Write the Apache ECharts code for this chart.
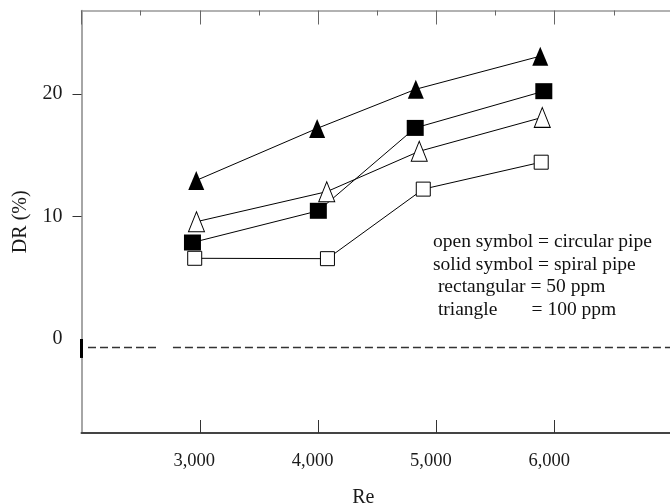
<!DOCTYPE html>
<html>
<head>
<meta charset="utf-8">
<script src="https://cdn.jsdelivr.net/npm/echarts@6/dist/echarts.min.js"></script>
<style>
  html, body { margin: 0; padding: 0; background: #fff; }
  #chart { width: 670px; height: 504px; }
</style>
</head>
<body>
<div id="chart"></div>
<script>
// Re / DR(%) pairs
const spiral100 = [[2970, 12.95], [3992, 17.2], [4826, 20.4], [5878, 23.1]];   // solid triangle
const spiral50 = [[2938, 7.88], [4002, 10.47], [4821, 17.24], [5908, 20.24]];  // solid square
const circular100 = [[2972, 9.58], [4073, 12.03], [4855, 15.33], [5895, 18.1]]; // open triangle
const circular50 = [[2957, 6.59], [4079, 6.56], [4889, 12.24], [5886, 14.44]];  // open square

// dashed zero line (drawn in two pieces like the original) and the mark on the axis
const zeroLeft = [[2055, -0.7], [2655, -0.7]];
const zeroRight = [[2773, -0.7], [7000, -0.7]];
const zeroMark = [[2000, 0], [2000, -1.55]];

const xTicks = [3000, 4000, 5000, 6000];
const yTicks = [10, 20];
const yLabels = [0, 10, 20];

const legendLines = [
    'open symbol = circular pipe',
    'solid symbol = spiral pipe',
    ' rectangular = 50 ppm',
    ' triangle       = 100 ppm'
];

const serif = '"Liberation Serif", "Times New Roman", serif';
const chart = echarts.init(document.getElementById('chart'));

function dataSeries(data, symbol, size, solid) {
    return {
        type: 'line',
        data: data,
        symbol: symbol,
        symbolSize: size,
        showAllSymbol: true,
        lineStyle: { color: '#000', width: 1 },
        itemStyle: {
            color: solid ? '#000' : '#fff',
            borderColor: '#000',
            borderWidth: solid ? 0 : 1
        },
        z: 3,
        silent: true
    };
}

function dashSeries(data) {
    return {
        type: 'line',
        data: data,
        symbol: 'none',
        lineStyle: { color: '#333', width: 1.5, type: [8, 4] },
        silent: true,
        z: 2
    };
}

const option = {
    backgroundColor: '#fff',
    animation: false,
    grid: { left: 81.5, right: -3, top: 10.5, bottom: 71, outerBoundsMode: 'none', containLabel: false },
    xAxis: [
        {
            type: 'value',
            position: 'bottom',
            min: 2000,
            max: 7000,
            interval: 1000,
            splitLine: { show: false },
            axisLine: { onZero: false, lineStyle: { color: '#444', width: 2 } },
            axisTick: { inside: true, length: 13, customValues: xTicks, lineStyle: { color: '#333', width: 1 } },
            axisLabel: {
                customValues: xTicks,
                margin: 19,
                padding: [0, 11, 0, 0],
                color: '#1a1a1a',
                fontFamily: serif,
                fontSize: 18.5,
                formatter: v => v.toLocaleString('en-US')
            },
            name: 'Re',
            nameLocation: 'middle',
            nameGap: 55,
            nameTextStyle: { color: '#1a1a1a', fontFamily: serif, fontSize: 20, padding: [0, 28, 0, 0] }
        },
        {
            type: 'value',
            position: 'top',
            min: 2000,
            max: 7000,
            interval: 1000,
            splitLine: { show: false },
            axisLine: { onZero: false, lineStyle: { color: '#999', width: 1.5 } },
            axisTick: { inside: true, length: 14, lineStyle: { color: '#666', width: 1 } },
            minorTick: { show: true, splitNumber: 2, length: 5, lineStyle: { color: '#666', width: 1 } },
            axisLabel: { show: false }
        }
    ],
    yAxis: {
        type: 'value',
        min: -7.68,
        max: 26.83,
        splitLine: { show: false },
        axisLine: { show: true, onZero: false, lineStyle: { color: '#888', width: 1.5 } },
        axisTick: { show: true, length: 9, customValues: yTicks, lineStyle: { color: '#333', width: 1 } },
        axisLabel: {
            customValues: yLabels,
            margin: 19,
            color: '#1a1a1a',
            fontFamily: serif,
            fontSize: 20
        },
        name: 'DR (%)',
        nameLocation: 'middle',
        nameGap: 51,
        nameTextStyle: { color: '#1a1a1a', fontFamily: serif, fontSize: 20 }
    },
    graphic: legendLines.map((t, i) => ({
        type: 'text',
        x: 433,
        y: 241.7 + i * 22.8,
        silent: true,
        style: {
            text: t,
            font: '19.5px ' + serif,
            fill: '#111',
            verticalAlign: 'middle'
        }
    })),
    series: [
        dashSeries(zeroLeft),
        dashSeries(zeroRight),
        {
            type: 'line',
            data: zeroMark,
            symbol: 'none',
            lineStyle: { color: '#000', width: 3 },
            clip: false,
            silent: true,
            z: 4
        },
        dataSeries(circular50, 'rect', [14, 14], false),
        dataSeries(circular100, 'triangle', [16, 20], false),
        dataSeries(spiral50, 'rect', [17, 16], true),
        dataSeries(spiral100, 'triangle', [16, 19], true)
    ]
};

chart.setOption(option);
window.addEventListener('resize', () => chart.resize());
</script>
</body>
</html>
